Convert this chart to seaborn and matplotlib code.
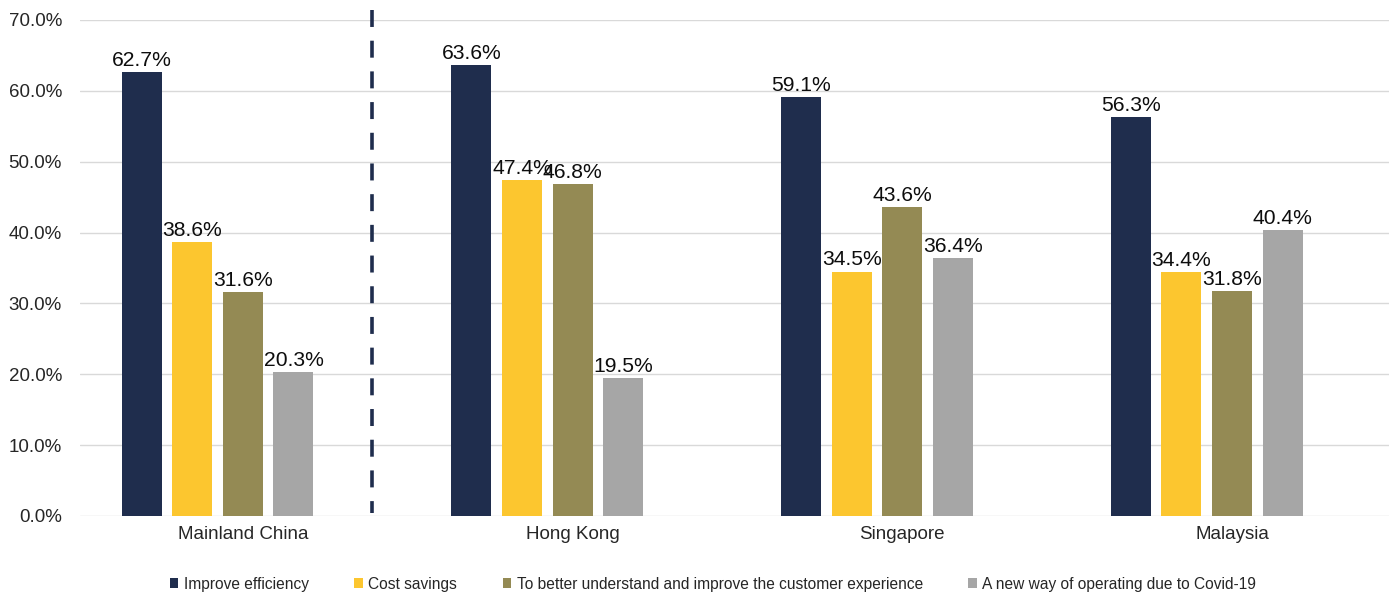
import matplotlib
matplotlib.use("Agg")
import matplotlib.pyplot as plt
import matplotlib.patches as mpatches
import pandas as pd
import seaborn as sns

# Survey results: main reasons for adopting the technology, by market (% of respondents)
markets = ["Mainland China", "Hong Kong", "Singapore", "Malaysia"]
series = [
    "Improve efficiency",
    "Cost savings",
    "To better understand and improve the customer experience",
    "A new way of operating due to Covid-19",
]
improve_efficiency = [62.7, 63.6, 59.1, 56.3]
cost_savings = [38.6, 47.4, 34.5, 34.4]
customer_experience = [31.6, 46.8, 43.6, 31.8]
covid_operating = [20.3, 19.5, 36.4, 40.4]
colors = ["#1F2D4D", "#FCC62F", "#948A54", "#A6A6A6"]
y_ticks = [0, 10, 20, 30, 40, 50, 60, 70]

# Long-form table for seaborn
rows = []
for name, vals in zip(series, [improve_efficiency, cost_savings,
                               customer_experience, covid_operating]):
    for m, v in zip(markets, vals):
        rows.append({"Market": m, "Reason": name, "Share": v})
df = pd.DataFrame(rows)

# An empty fifth slot keeps each group of bars left of the category centre
spacer = " "
hue_order = series + [spacer]
palette = dict(zip(series, colors))
palette[spacer] = "white"

sns.set_theme(style="white")
plt.rcParams["font.family"] = ["Liberation Sans", "DejaVu Sans"]

W, H = 1389, 595
fig = plt.figure(figsize=(W / 100, H / 100), dpi=100)
ax_left, ax_right, ax_top, ax_bottom = 80, 1389, 20, 516
ax = fig.add_axes([ax_left / W, 1 - ax_bottom / H,
                   (ax_right - ax_left) / W, (ax_bottom - ax_top) / H])

sns.barplot(data=df, x="Market", y="Share", hue="Reason", order=markets,
            hue_order=hue_order, palette=palette, width=0.767, gap=0.21,
            saturation=1, errorbar=None, legend=False, linewidth=0,
            edgecolor="none", ax=ax)

for cont in ax.containers:
    ax.bar_label(cont, fmt="{:.1f}%", padding=1.5, fontsize=15.2,
                 color="#0D0D0D")

ax.set_ylim(0, 70)
ax.set_yticks(y_ticks)
ax.set_yticklabels([f"{t:.1f}%" for t in y_ticks])
ax.set_xlim(-0.494, 3.476)
ax.set_xlabel("")
ax.set_ylabel("")
ax.tick_params(axis="y", length=0, pad=13, labelsize=13.5, labelcolor="#262626")
ax.tick_params(axis="x", length=0, pad=7.5, labelsize=13.5, labelcolor="#262626")
ax.yaxis.grid(True, color="#D9D9D9", linewidth=1.0)
ax.set_axisbelow(True)
for s in ax.spines.values():
    s.set_visible(False)

# Dashed separator between Mainland China and the other markets
ax.plot([0.392, 0.392], [71.4, 0.4], color=colors[0], linewidth=2.6,
        dashes=(4.7, 3.8), clip_on=False, zorder=3)

handles = [mpatches.Patch(facecolor=c, edgecolor="none") for c in colors]
fig.legend(handles, series, loc="center", bbox_to_anchor=(713 / W, 1 - 584 / H),
           ncol=4, frameon=False, fontsize=11.2, handlelength=0.55,
           handleheight=0.55, handletextpad=0.35, columnspacing=2.92,
           labelcolor="#262626")

fig.savefig("out.png", dpi=100, facecolor="white")
